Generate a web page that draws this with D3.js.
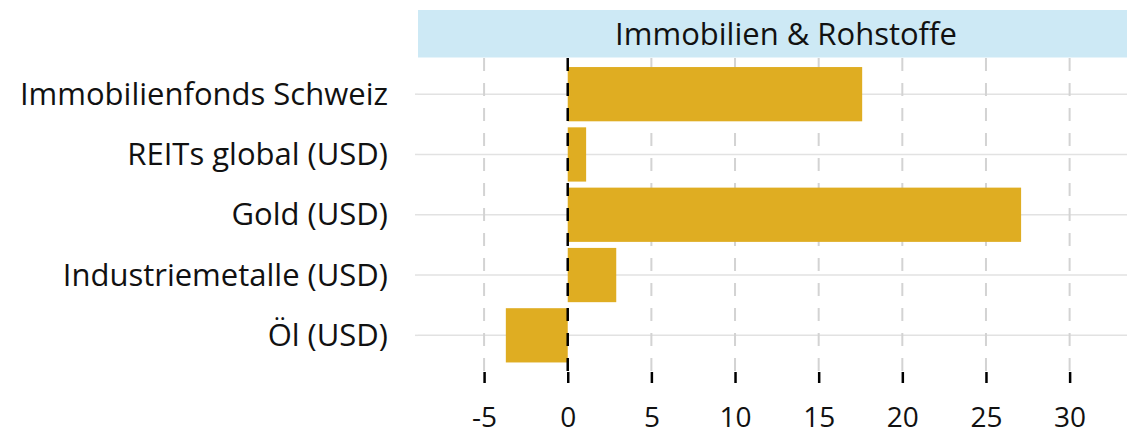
<!DOCTYPE html>
<html>
<head>
<script src="https://d3js.org/d3.v7.min.js"></script>
<style>
  body { margin: 0; background: #fff; }
  text { font-family: "Open Sans", sans-serif; fill: #111; }
</style>
</head>
<body>
<div id="chart"></div>
<script>
// data
var categories = ["Immobilienfonds Schweiz", "REITs global (USD)", "Gold (USD)", "Industriemetalle (USD)", "Öl (USD)"];
var values = [17.6, 1.1, 27.1, 2.9, -3.7];
var xTicks = [-5, 0, 5, 10, 15, 20, 25, 30];
var panelTitle = "Immobilien & Rohstoffe";

var width = 1127, height = 435;
var panel = { left: 418, right: 1127, top: 58, bottom: 371.5 };

var svg = d3.select("#chart").append("svg")
    .attr("width", width)
    .attr("height", height);

var x = d3.scaleLinear()
    .domain([-8.95, 33.43])
    .range([panel.left, panel.right]);

// discrete scale, 0.6 of a step above the first and below the last bar centre
var y = d3.scaleBand()
    .domain(categories)
    .range([panel.top, panel.bottom])
    .paddingInner(0.1)
    .paddingOuter(0.15);

// strip header
svg.append("rect")
    .attr("x", panel.left)
    .attr("y", 10)
    .attr("width", panel.right - panel.left)
    .attr("height", 47.5)
    .attr("fill", "#cde9f5");

svg.append("text")
    .attr("x", 786)
    .attr("y", 45)
    .attr("text-anchor", "middle")
    .style("font-size", "31px")
    .text(panelTitle);

// horizontal grid lines
svg.selectAll(".hgrid")
    .data(categories)
    .enter().append("line")
    .attr("class", "hgrid")
    .attr("x1", panel.left)
    .attr("x2", panel.right)
    .attr("y1", d => y(d) + y.bandwidth() / 2)
    .attr("y2", d => y(d) + y.bandwidth() / 2)
    .attr("stroke", "#e2e2e2")
    .attr("stroke-width", 1.5);

// vertical dashed grid lines
svg.selectAll(".vgrid")
    .data(xTicks.filter(d => d !== 0))
    .enter().append("line")
    .attr("class", "vgrid")
    .attr("x1", d => x(d))
    .attr("x2", d => x(d))
    .attr("y1", panel.top)
    .attr("y2", panel.bottom)
    .attr("stroke", "#d3d3d3")
    .attr("stroke-width", 2)
    .attr("stroke-dasharray", "13,12");

// bars
svg.selectAll(".bar")
    .data(values)
    .enter().append("rect")
    .attr("class", "bar")
    .attr("x", d => x(Math.min(0, d)))
    .attr("width", d => Math.abs(x(d) - x(0)))
    .attr("y", (d, i) => y(categories[i]))
    .attr("height", y.bandwidth())
    .attr("fill", "#dfad22");

// zero line
svg.append("line")
    .attr("x1", x(0))
    .attr("x2", x(0))
    .attr("y1", panel.top)
    .attr("y2", panel.bottom)
    .attr("stroke", "#000")
    .attr("stroke-width", 2.5)
    .attr("stroke-dasharray", "13,12");

// x axis
var xAxis = svg.append("g")
    .attr("transform", "translate(0," + (panel.bottom + 0.5) + ")")
    .call(d3.axisBottom(x).tickValues(xTicks).tickSize(11).tickFormat(d => String(d)));
xAxis.select(".domain").remove();
xAxis.selectAll(".tick line").attr("stroke", "#000").attr("stroke-width", 2.5);
xAxis.selectAll(".tick text")
    .style("font-family", "'Open Sans', sans-serif")
    .style("font-size", "28px")
    .attr("fill", "#111")
    .attr("y", 55)
    .attr("dy", 0);

// y axis
var yAxis = svg.append("g")
    .attr("transform", "translate(" + panel.left + ",0)")
    .call(d3.axisLeft(y).tickSize(3).tickPadding(27));
yAxis.select(".domain").remove();
yAxis.selectAll(".tick line").attr("stroke", "#e2e2e2").attr("stroke-width", 1.5);
yAxis.selectAll(".tick text")
    .style("font-family", "'Open Sans', sans-serif")
    .style("font-size", "31px")
    .attr("fill", "#111")
    .attr("dy", "0.34em");
</script>
</body>
</html>
